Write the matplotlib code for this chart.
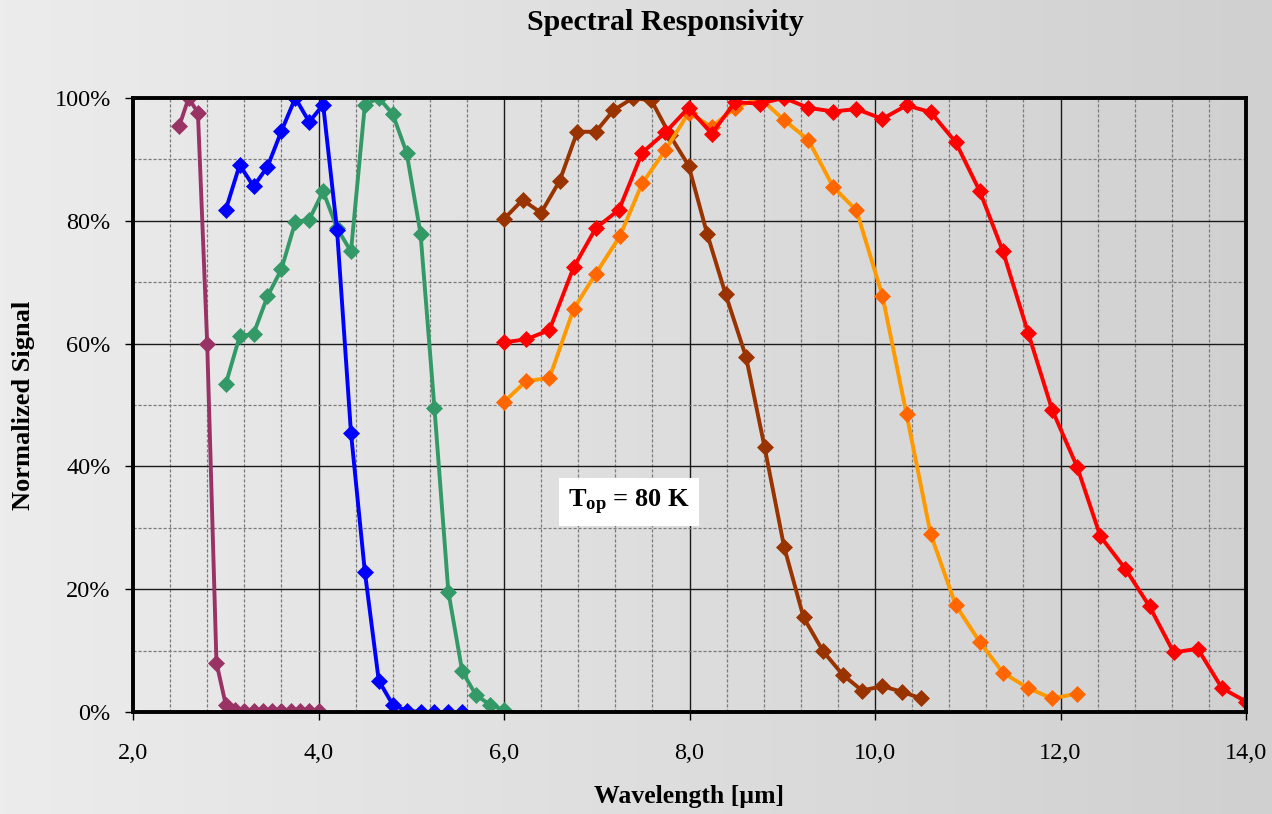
import numpy as np
import matplotlib
matplotlib.use("Agg")
import matplotlib.pyplot as plt
from matplotlib.ticker import MultipleLocator, FuncFormatter
from matplotlib.colors import LinearSegmentedColormap

# ---- data ----
purple_x = [2.5, 2.6, 2.7, 2.8, 2.9, 3.0, 3.1, 3.2, 3.3, 3.4, 3.5, 3.6, 3.7, 3.8, 3.9, 4.0]
purple_y = [95.5, 100, 97.6, 60.0, 8.0, 1.2, 0.4, 0.2, 0.2, 0.2, 0.2, 0.2, 0.2, 0.2, 0.2, 0.1]

blue_x = [3.0, 3.15, 3.3, 3.45, 3.6, 3.75, 3.9, 4.05, 4.2, 4.35, 4.5, 4.65, 4.8, 4.95, 5.1, 5.25, 5.4, 5.55]
blue_y = [81.8, 89.1, 85.6, 88.8, 94.6, 100, 96.1, 98.9, 78.5, 45.5, 22.8, 5.1, 1.2, 0.2, 0.0, 0.0, 0.0, 0.0]

green_x = [3.0, 3.15, 3.3, 3.45, 3.6, 3.75, 3.9, 4.05, 4.2, 4.35, 4.5, 4.65, 4.8, 4.95,
           5.1, 5.25, 5.4, 5.55, 5.7, 5.85, 6.0]
green_y = [53.4, 61.2, 61.6, 67.7, 72.1, 79.8, 80.2, 84.8, 78.8, 75.0, 98.9, 100, 97.4, 91.1,
           77.9, 49.5, 19.6, 6.6, 2.7, 1.2, 0.3]

brown_x = [6.0, 6.2, 6.4, 6.6, 6.79, 6.99, 7.18, 7.39, 7.59, 7.79, 7.99, 8.19, 8.39, 8.61,
           8.81, 9.02, 9.23, 9.44, 9.65, 9.86, 10.08, 10.29, 10.5]
brown_y = [80.3, 83.4, 81.3, 86.5, 94.5, 94.5, 98.0, 100, 99.6, 93.9, 89.0, 77.9, 68.0, 57.8,
           43.1, 26.9, 15.4, 9.9, 6.1, 3.5, 4.2, 3.3, 2.2]

red_x = [6.0, 6.24, 6.49, 6.75, 6.99, 7.24, 7.49, 7.74, 7.99, 8.24, 8.49, 8.76, 9.02, 9.28,
         9.55, 9.8, 10.08, 10.34, 10.6, 10.87, 11.13, 11.38, 11.65, 11.91, 12.18, 12.43,
         12.7, 12.96, 13.22, 13.48, 13.74, 14.0]
red_y = [60.2, 60.7, 62.2, 72.4, 78.8, 81.8, 91.1, 94.4, 98.4, 94.2, 99.3, 99.1, 100, 98.4,
         97.8, 98.2, 96.6, 98.8, 97.7, 92.8, 84.8, 75.0, 61.8, 49.2, 39.9, 28.6,
         23.3, 17.2, 9.7, 10.3, 3.9, 1.7]

orange_x = [6.0, 6.24, 6.49, 6.75, 6.99, 7.25, 7.49, 7.74, 7.99, 8.24, 8.49, 8.76, 9.02, 9.28,
            9.55, 9.8, 10.08, 10.34, 10.6, 10.87, 11.13, 11.38, 11.65, 11.91, 12.18]
orange_y = [50.5, 53.9, 54.4, 65.6, 71.4, 77.5, 86.1, 91.5, 97.6, 95.3, 98.4, 100, 96.4, 93.2,
            85.5, 81.7, 67.8, 48.5, 29.0, 17.4, 11.4, 6.4, 3.9, 2.2, 3.0]

x_ticks = [2, 4, 6, 8, 10, 12, 14]
y_ticks = [0, 20, 40, 60, 80, 100]

series = [
    (purple_x, purple_y, "#993366", "#993366"),
    (green_x, green_y, "#339966", "#339966"),
    (blue_x, blue_y, "#0000ff", "#0000ff"),
    (brown_x, brown_y, "#993300", "#993300"),
    (orange_x, orange_y, "#ff9900", "#ff6600"),
    (red_x, red_y, "#ff0000", "#ff0000"),
]

serif = ["Liberation Serif", "DejaVu Serif"]
plt.rcParams["font.family"] = serif
plt.rcParams["mathtext.fontset"] = "custom"
plt.rcParams["mathtext.bf"] = "Liberation Serif:bold"
plt.rcParams["mathtext.rm"] = "Liberation Serif"

fig = plt.figure(figsize=(12.72, 8.14), dpi=100)

# background gradient
bg = fig.add_axes([0, 0, 1, 1], zorder=-10)
grad = np.linspace(0, 1, 256)[None, :]
cmap = LinearSegmentedColormap.from_list("bg", ["#ececec", "#d0d0d0"])
bg.imshow(grad, aspect="auto", cmap=cmap, extent=[0, 1, 0, 1])
bg.axis("off")

ax = fig.add_axes([133 / 1272, 1 - 712 / 814, (1246 - 133) / 1272, (712 - 98) / 814])
ax.set_facecolor("none")

for xs, ys, lc, mc in series:
    ax.plot(xs, ys, color=lc, lw=2.8, marker="D", ms=8.0, mfc=mc, mec=mc, mew=0.5,
            solid_joinstyle="miter", zorder=3)

ax.set_xlim(2, 14)
ax.set_ylim(0, 100)
ax.set_xticks(x_ticks)
ax.set_yticks(y_ticks)
ax.xaxis.set_minor_locator(MultipleLocator(0.4))
ax.yaxis.set_minor_locator(MultipleLocator(10))
ax.xaxis.set_major_formatter(FuncFormatter(lambda v, p: f"{v:.1f}".replace(".", ",")))
ax.yaxis.set_major_formatter(FuncFormatter(lambda v, p: f"{int(round(v))}%"))

ax.grid(which="major", axis="both", color="#1a1a1a", lw=1.0, ls="-", zorder=1)
ax.grid(which="minor", axis="both", color="#7a7a7a", lw=0.9, ls=(0, (2.5, 1.5)), zorder=1)
ax.set_axisbelow(True)

ax.tick_params(axis="x", which="major", direction="out", length=6, width=1, color="black",
               labelsize=17.5, labelcolor="black", pad=16)
ax.tick_params(axis="y", which="major", direction="out", length=6, width=1, color="black",
               labelsize=17.5, labelcolor="black", pad=10)
ax.tick_params(which="minor", length=0)
for s in ax.spines.values():
    s.set_linewidth(2.8)
    s.set_color("black")
    s.set_zorder(4)

ax.set_xlabel("Wavelength [µm]", fontsize=18.5, fontweight="bold", labelpad=15.5)
ax.set_ylabel("Normalized Signal", fontsize=19, fontweight="bold", labelpad=14)
fig.text(665 / 1272, 1 - 22 / 814, "Spectral Responsivity", ha="center", va="center",
         fontsize=21.5, fontweight="bold")

ax.text(7.35, 34.2, r"$\mathbf{T_{op}}$ = 80 K", ha="center", va="center", fontsize=19,
        fontweight="bold", zorder=5,
        bbox=dict(boxstyle="square,pad=0.35", fc="white", ec="none"))

fig.savefig("out.png", dpi=100)
